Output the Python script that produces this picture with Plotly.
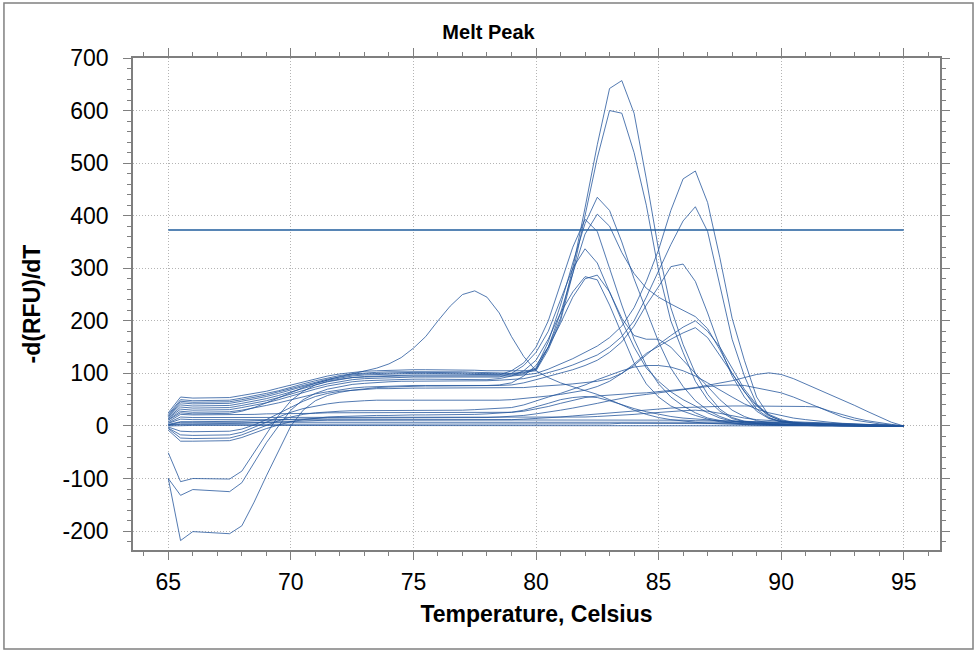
import plotly.graph_objects as go

# ---------------- data ----------------
TEMPERATURE = [65.0, 65.5, 66.0, 66.5, 67.0, 67.5, 68.0, 68.5, 69.0, 69.5,
               70.0, 70.5, 71.0, 71.5, 72.0, 72.5, 73.0, 73.5, 74.0, 74.5,
               75.0, 75.5, 76.0, 76.5, 77.0, 77.5, 78.0, 78.5, 79.0, 79.5,
               80.0, 80.5, 81.0, 81.5, 82.0, 82.5, 83.0, 83.5, 84.0, 84.5,
               85.0, 85.5, 86.0, 86.5, 87.0, 87.5, 88.0, 88.5, 89.0, 89.5,
               90.0, 90.5, 91.0, 91.5, 92.0, 92.5, 93.0, 93.5, 94.0, 94.5, 95.0]

THRESHOLD = 373

X_TICK_VALUES = [65, 70, 75, 80, 85, 90, 95]
X_TICK_LABELS = ["65", "70", "75", "80", "85", "90", "95"]
Y_TICK_VALUES = [-200, -100, 0, 100, 200, 300, 400, 500, 600, 700]
Y_TICK_LABELS = ["-200", "-100", "0", "100", "200", "300", "400", "500", "600", "700"]

P1 = [25, 55, 53, 53, 53, 54, 58, 62, 66, 72,
      78, 84, 90, 95, 99, 102, 104, 105, 106, 106,
      107, 107, 107, 107, 106, 106, 105, 105, 104, 105,
      107, 150, 205, 300, 415, 535, 642, 657, 595, 470,
      335, 225, 155, 100, 60, 32, 16, 9, 6, 4,
      3, 2, 2, 1, 1, 1, 0, 0, 0, 0, 0]
P2 = [22, 50, 48, 48, 48, 49, 53, 57, 62, 67,
      74, 80, 86, 91, 96, 99, 101, 102, 103, 103,
      104, 104, 104, 103, 103, 102, 102, 101, 100, 102,
      105, 145, 200, 290, 400, 510, 600, 595, 520, 420,
      295, 200, 140, 85, 50, 28, 14, 8, 5, 4,
      3, 2, 2, 1, 1, 1, 0, 0, 0, 0, 0]
Q1 = [20, 47, 45, 45, 45, 46, 50, 54, 59, 65,
      71, 78, 84, 89, 93, 97, 99, 100, 101, 101,
      102, 102, 102, 101, 101, 100, 100, 99, 99, 101,
      110, 160, 230, 310, 385, 435, 410, 350, 280, 220,
      160, 110, 75, 48, 30, 18, 10, 6, 4, 3,
      2, 2, 1, 1, 1, 0, 0, 0, 0, 0, 0]
Q2 = [18, 44, 42, 42, 42, 43, 47, 51, 56, 62,
      69, 75, 81, 87, 91, 95, 97, 98, 99, 99,
      100, 100, 100, 99, 99, 98, 98, 97, 97, 99,
      108, 150, 215, 290, 365, 403, 380, 330, 290, 262,
      245, 232, 220, 208, 185, 145, 100, 65, 32, 15,
      8, 5, 4, 3, 2, 2, 1, 1, 0, 0, 0]
Q3 = [17, 40, 38, 38, 38, 39, 43, 47, 52, 58,
      65, 72, 78, 84, 88, 92, 94, 95, 96, 96,
      97, 97, 97, 97, 96, 96, 96, 97, 105, 120,
      150, 200, 270, 340, 393, 370, 300, 230, 165, 115,
      80, 55, 38, 25, 15, 10, 6, 4, 3, 2,
      2, 1, 1, 1, 0, 0, 0, 0, 0, 0, 0]
Q4 = [15, 36, 34, 34, 34, 35, 39, 43, 48, 54,
      61, 68, 74, 80, 84, 88, 90, 91, 92, 92,
      93, 93, 93, 93, 92, 92, 92, 93, 100, 115,
      140, 180, 240, 300, 337, 310, 255, 205, 172, 165,
      165, 150, 125, 100, 75, 50, 30, 18, 10, 6,
      4, 3, 2, 2, 1, 1, 0, 0, 0, 0, 0]
Q5 = [14, 32, 30, 30, 30, 31, 35, 39, 44, 50,
      57, 64, 70, 76, 80, 84, 86, 87, 88, 88,
      89, 89, 89, 89, 88, 88, 88, 90, 95, 105,
      125, 165, 215, 255, 284, 278, 230, 175, 120, 80,
      55, 38, 28, 20, 13, 8, 5, 3, 2, 2,
      1, 1, 1, 0, 0, 0, 0, 0, 0, 0, 0]
Q6 = [12, 28, 26, 26, 26, 27, 30, 34, 39, 44,
      50, 55, 61, 65, 69, 72, 74, 75, 76, 76,
      77, 77, 77, 77, 76, 76, 77, 78, 82, 95,
      115, 150, 195, 245, 280, 287, 255, 200, 150, 110,
      85, 65, 50, 38, 25, 15, 9, 6, 4, 3,
      2, 2, 1, 1, 1, 0, 0, 0, 0, 0, 0]
M1 = [11, 25, 23, 23, 23, 24, 28, 35, 44, 54,
      64, 73, 81, 88, 94, 99, 104, 110, 118, 130,
      148, 170, 200, 228, 250, 257, 245, 215, 170, 132,
      105, 92, 82, 75, 68, 60, 50, 40, 30, 22,
      16, 12, 9, 7, 5, 4, 3, 2, 2, 1,
      1, 1, 0, 0, 0, 0, 0, 0, 0, 0, 0]
R1 = [-51, -106, -100, -100, -100, -101, -86, -50, -15, 20,
      48, 66, 78, 85, 89, 92, 93, 94, 94, 95,
      95, 95, 95, 95, 95, 95, 94, 94, 95, 97,
      100, 108, 118, 128, 140, 152, 168, 190, 225, 275,
      335, 410, 470, 485, 425, 320, 205, 125, 55, 20,
      10, 6, 4, 3, 2, 2, 1, 1, 0, 0, 0]
R2 = [-100, -132, -121, -122, -123, -125, -108, -70, -32, 0,
      30, 50, 62, 70, 75, 79, 81, 83, 84, 85,
      85, 86, 86, 86, 86, 86, 86, 87, 88, 90,
      95, 101, 108, 116, 125, 135, 150, 170, 200, 245,
      295, 345, 390, 417, 370, 265, 165, 95, 42, 16,
      8, 5, 4, 3, 2, 2, 1, 1, 0, 0, 0]
R3 = [-100, -218, -201, -202, -203, -205, -190, -145, -95, -48,
      0, 30, 48, 58, 64, 68, 71, 73, 74, 75,
      75, 76, 76, 76, 76, 76, 77, 77, 78, 82,
      88, 94, 100, 107, 115, 125, 140, 160, 190, 230,
      265, 303, 308, 275, 215, 150, 95, 55, 28, 14,
      8, 5, 3, 2, 2, 1, 1, 0, 0, 0, 0]
R4 = [-2, -10, -11, -11, -11, -10, -6, 2, 12, 24,
      36, 47, 56, 62, 66, 68, 70, 71, 71, 72,
      72, 72, 72, 72, 72, 72, 72, 72, 72, 73,
      75, 76, 78, 80, 82, 85, 90, 100, 115, 135,
      155, 172, 188, 200, 180, 150, 110, 70, 40, 22,
      12, 7, 4, 3, 2, 1, 1, 0, 0, 0, 0]
R5 = [-4, -17, -18, -18, -18, -17, -12, -3, 7, 17,
      26, 33, 38, 42, 45, 47, 48, 49, 49, 49,
      49, 49, 48, 48, 48, 48, 48, 49, 50, 52,
      55, 57, 60, 64, 68, 75, 85, 100, 118, 138,
      152, 165, 177, 187, 168, 135, 100, 65, 38, 20,
      10, 6, 4, 2, 2, 1, 1, 0, 0, 0, 0]
U1 = [-5, -23, -24, -24, -24, -23, -17, -8, 2, 10,
      17, 22, 25, 27, 28, 29, 29, 30, 30, 30,
      30, 30, 30, 30, 30, 31, 32, 33, 35, 40,
      48, 55, 62, 70, 78, 88, 97, 105, 112, 115,
      115, 112, 105, 95, 82, 68, 55, 42, 32, 25,
      20, 15, 12, 9, 7, 5, 4, 3, 2, 1, 0]
S1 = [-8, -29, -29, -29, -29, -28, -22, -13, -5, 2,
      8, 12, 15, 17, 18, 19, 20, 20, 20, 21,
      21, 21, 21, 21, 22, 22, 23, 24, 26, 28,
      32, 37, 43, 49, 54, 57, 59, 61, 62, 63,
      65, 67, 70, 73, 77, 81, 86, 92, 98, 101,
      98, 90, 80, 70, 60, 50, 39, 28, 17, 7, 0]
S2 = [3, 8, 8, 8, 8, 8, 9, 10, 11, 12,
      13, 14, 14, 15, 15, 15, 15, 15, 15, 15,
      15, 15, 15, 15, 15, 16, 16, 17, 18, 20,
      23, 26, 30, 34, 38, 43, 48, 53, 57, 60,
      63, 66, 70, 73, 75, 77, 78, 77, 72, 68,
      63, 55, 45, 36, 28, 21, 15, 10, 6, 3, 0]
S3 = [2, 4, 4, 4, 4, 4, 5, 6, 7, 8,
      9, 10, 10, 11, 11, 11, 11, 11, 11, 11,
      11, 11, 11, 11, 11, 11, 12, 12, 12, 13,
      14, 15, 17, 19, 21, 23, 25, 27, 29, 31,
      33, 34, 35, 36, 37, 37, 38, 38, 38, 38,
      37, 37, 37, 36, 26, 17, 11, 7, 4, 2, 0]
N1 = [5, 13, 12, 12, 12, 12, 12, 12, 12, 12,
      12, 12, 12, 12, 12, 12, 12, 12, 12, 12,
      12, 12, 12, 12, 12, 12, 12, 12, 12, 12,
      12, 12, 12, 12, 12, 12, 12, 12, 12, 12,
      11, 11, 11, 10, 10, 10, 9, 9, 8, 8,
      7, 7, 6, 5, 5, 4, 3, 2, 2, 1, 0]
N2 = [2, 7, 7, 7, 7, 7, 7, 7, 7, 7,
      7, 7, 7, 7, 7, 7, 7, 7, 7, 7,
      7, 7, 7, 7, 7, 7, 7, 7, 7, 7,
      7, 7, 7, 7, 7, 8, 8, 8, 8, 8,
      8, 8, 8, 8, 8, 8, 7, 7, 7, 7,
      6, 6, 5, 5, 4, 4, 3, 2, 2, 1, 0]
N3 = [1, 3, 3, 3, 3, 3, 3, 3, 3, 3,
      3, 3, 3, 3, 3, 3, 3, 3, 3, 3,
      3, 3, 3, 3, 3, 3, 3, 3, 3, 3,
      3, 3, 3, 4, 4, 4, 4, 5, 5, 5,
      5, 5, 5, 5, 5, 5, 5, 4, 4, 4,
      4, 3, 3, 3, 2, 2, 2, 1, 1, 0, 0]
N4 = [8, 22, 21, 21, 21, 21, 22, 22, 23, 23,
      24, 24, 24, 25, 25, 25, 25, 25, 25, 25,
      25, 25, 25, 25, 25, 25, 25, 25, 26, 30,
      36, 43, 50, 54, 56, 54, 48, 40, 33, 27,
      22, 18, 15, 13, 11, 10, 9, 8, 7, 6,
      6, 5, 5, 4, 4, 3, 2, 2, 1, 1, 0]
N5 = [6, 17, 16, 16, 16, 16, 16, 16, 16, 16,
      16, 16, 16, 16, 16, 16, 16, 16, 16, 16,
      16, 16, 16, 16, 16, 16, 16, 16, 16, 16,
      16, 16, 16, 17, 17, 18, 19, 20, 22, 24,
      26, 28, 29, 30, 28, 24, 19, 15, 12, 10,
      9, 8, 7, 6, 5, 4, 3, 2, 2, 1, 0]
N6 = [0, 1, 1, 1, 1, 1, 1, 1, 1, 1,
      1, 1, 1, 1, 1, 1, 1, 1, 1, 1,
      1, 1, 1, 1, 1, 1, 1, 1, 1, 1,
      1, 1, 1, 1, 1, 1, 1, 1, 1, 1,
      1, 1, 1, 1, 1, 1, 1, 1, 1, 1,
      1, 1, 1, 1, 0, 0, 0, 0, 0, 0, 0]

CURVES = [N6, N3, N2, N1, N5, N4, S3, S2, S1, U1, R5, R4, R3, R2, R1,
          M1, Q6, Q5, Q4, Q3, Q2, Q1, P2, P1]

for c in CURVES:
    assert len(c) == len(TEMPERATURE), len(c)

# ---------------- figure ----------------
LINE_COLOR = "rgba(35,85,155,0.78)"
FONT = "Liberation Sans, Arial, sans-serif"

fig = go.Figure()
for c in CURVES:
    fig.add_trace(go.Scatter(x=TEMPERATURE, y=c, mode="lines",
                             line=dict(color=LINE_COLOR, width=1),
                             hoverinfo="skip", showlegend=False))

fig.add_trace(go.Scatter(x=[TEMPERATURE[0], TEMPERATURE[-1]],
                         y=[THRESHOLD, THRESHOLD], mode="lines",
                         line=dict(color="#1f5c9c", width=1.5),
                         hoverinfo="skip", showlegend=False))

axis_common = dict(
    showline=True, linecolor="#7f7f7f", linewidth=1.5, mirror="allticks",
    ticks="outside", ticklen=8, tickwidth=1, tickcolor="#7f7f7f",
    showgrid=True, gridcolor="#b4b4b4", griddash="1px,2px", gridwidth=1,
    zeroline=False,
    tickfont=dict(family=FONT, size=23, color="black"),
    title_font=dict(family=FONT, size=23, color="black", weight="bold"),
)

fig.update_xaxes(
    range=[63.56, 96.48], tickmode="array",
    tickvals=X_TICK_VALUES, ticktext=X_TICK_LABELS,
    minor=dict(dtick=1, tick0=65, ticks="outside", ticklen=4, tickcolor="#7f7f7f", showgrid=False),
    title_text="Temperature, Celsius", title_standoff=12,
    ticklabelstandoff=3,
    **axis_common)
fig.update_yaxes(
    range=[-236, 700], tickmode="array",
    tickvals=Y_TICK_VALUES, ticktext=Y_TICK_LABELS,
    minor=dict(dtick=20, tick0=0, ticks="outside", ticklen=4, tickcolor="#7f7f7f", showgrid=False),
    title_text="-d(RFU)/dT", title_standoff=16,
    ticklabelstandoff=10,
    **axis_common)

fig.update_layout(
    width=977, height=652,
    margin=dict(l=133, r=37, t=58, b=102),
    paper_bgcolor="white", plot_bgcolor="white",
    title=dict(text="Melt Peak", x=0.5, xref="container", xanchor="center",
               y=1 - 32 / 652, yref="container", yanchor="middle",
               font=dict(family=FONT, size=20, color="black", weight="bold")),
    shapes=[dict(type="rect", xref="paper", yref="paper",
                 x0=-0.1599, x1=1.0409, y0=-0.2012, y1=1.1118,
                 line=dict(color="#808080", width=1.5), layer="above")],
)

fig.write_html("out.html",
               config={"displayModeBar": False},
               post_script="document.body.style.margin='0px';document.body.style.padding='0px';")
